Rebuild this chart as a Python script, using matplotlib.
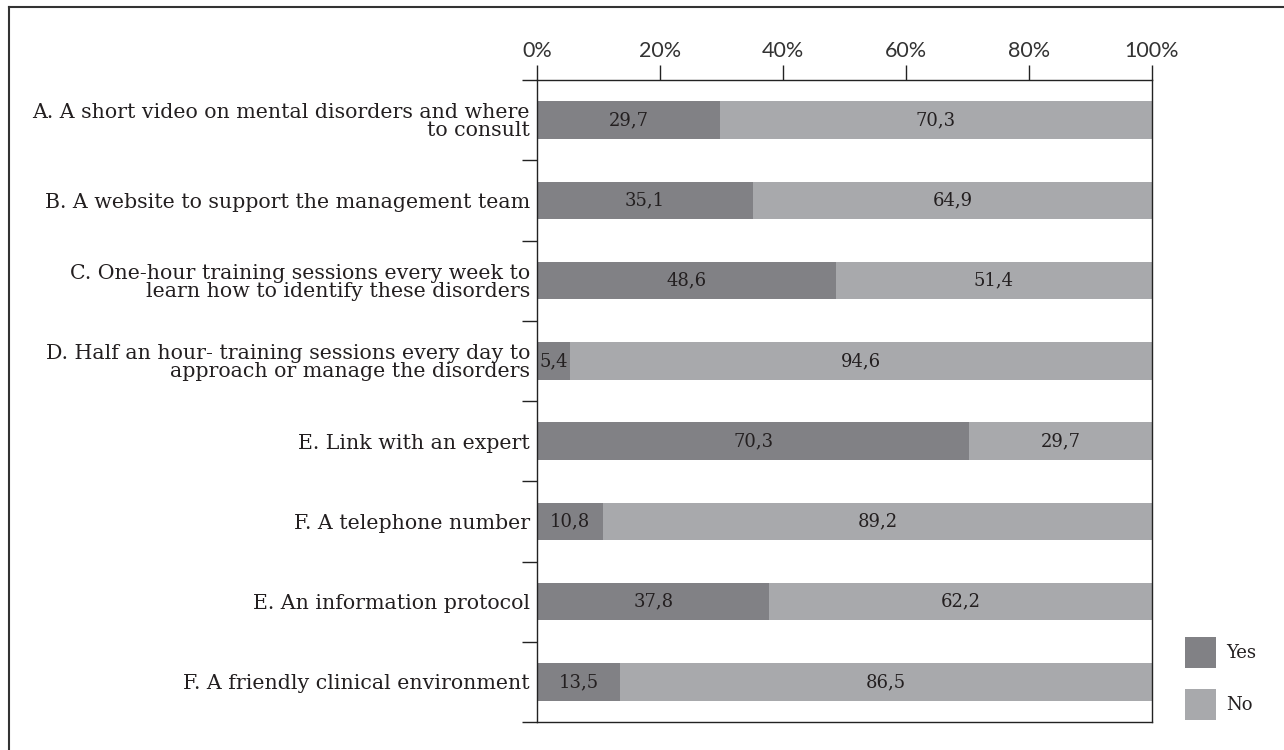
import numpy as np
import matplotlib.pyplot as plt
from matplotlib.patches import Patch
from matplotlib.lines import Line2D
from matplotlib.ticker import FixedLocator

categories = [
    "A. A short video on mental disorders and where\nto consult",
    "B. A website to support the management team",
    "C. One-hour training sessions every week to\nlearn how to identify these disorders",
    "D. Half an hour- training sessions every day to\napproach or manage the disorders",
    "E. Link with an expert",
    "F. A telephone number",
    "E. An information protocol",
    "F. A friendly clinical environment",
]
yes_values = [29.7, 35.1, 48.6, 5.4, 70.3, 10.8, 37.8, 13.5]
no_values = [70.3, 64.9, 51.4, 94.6, 29.7, 89.2, 62.2, 86.5]
x_ticks = [0, 20, 40, 60, 80, 100]
x_tick_labels = ["0%", "20%", "40%", "60%", "80%", "100%"]

YES_COLOR = "#818185"
NO_COLOR = "#a8a9ac"
TEXT_COLOR = "#231f20"
SERIF = ["DejaVu Serif"]
SANS = ["Lato", "DejaVu Sans"]

fig = plt.figure(figsize=(12.84, 7.5), dpi=100)
ax = fig.add_axes([537 / 1284, 1 - 722 / 750, (1152 - 537) / 1284, (722 - 80) / 750])

y = np.arange(len(categories))
bar_h = 0.47
yes_bars = ax.barh(y, yes_values, height=bar_h, color=YES_COLOR, label="Yes")
no_bars = ax.barh(y, no_values, left=yes_values, height=bar_h, color=NO_COLOR, label="No")

for bars, vals in ((yes_bars, yes_values), (no_bars, no_values)):
    labels = [f"{v:.1f}".replace(".", ",") for v in vals]
    ax.bar_label(bars, labels=labels, label_type="center", fontsize=13,
                 family=SERIF, color=TEXT_COLOR)

ax.set_xlim(0, 100)
ax.set_ylim(len(categories) - 0.5, -0.5)

ax.xaxis.tick_top()
ax.set_xticks(x_ticks)
ax.set_xticklabels(x_tick_labels, family=SANS, fontsize=15.5, color="#333333")
ax.tick_params(axis="x", direction="out", length=11, width=1, color="#222222", pad=2.5)

ax.set_yticks(y)
ax.set_yticklabels(categories, family=SERIF, fontsize=14.8, color=TEXT_COLOR,
                   linespacing=0.95)
ax.tick_params(axis="y", which="major", length=0, pad=5)
ax.yaxis.set_minor_locator(FixedLocator(np.arange(-0.5, len(categories), 1.0)))
ax.tick_params(axis="y", which="minor", direction="out", length=11, width=1, color="#222222")

for s in ax.spines.values():
    s.set_color("#222222")
    s.set_linewidth(1)

handles = [Patch(facecolor=YES_COLOR, label="Yes"), Patch(facecolor=NO_COLOR, label="No")]
leg = fig.legend(handles=handles, loc="upper left", bbox_to_anchor=(1176 / 1284, 1 - 628 / 750),
                 frameon=False, borderpad=0, handlelength=1.72, handleheight=2.27,
                 handletextpad=0.55, labelspacing=1.15,
                 prop={"family": SERIF, "size": 13})
for t in leg.get_texts():
    t.set_color(TEXT_COLOR)

# outer frame (only left and top edges visible in the crop)
fx = 9 / 1284
fy = 1 - 7 / 750
fig.add_artist(Line2D([fx, fx], [0, fy], transform=fig.transFigure, color="#333333", lw=1.5))
fig.add_artist(Line2D([fx, 1], [fy, fy], transform=fig.transFigure, color="#333333", lw=1.5))

fig.savefig("out.png", dpi=100)
